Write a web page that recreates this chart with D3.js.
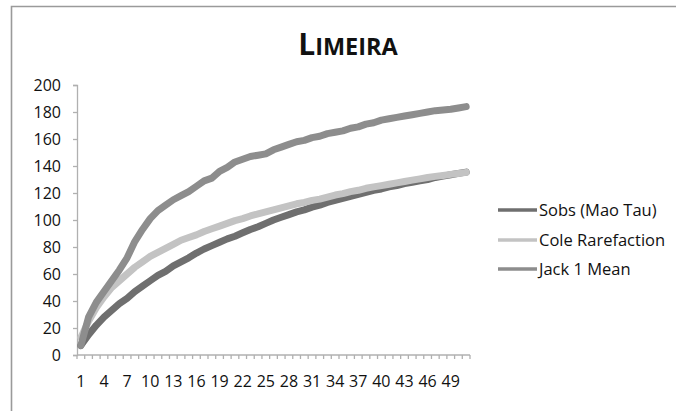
<!DOCTYPE html>
<html>
<head>
<meta charset="utf-8">
<script src="https://cdn.jsdelivr.net/npm/d3@7"></script>
<style>
  html, body { margin: 0; padding: 0; background: #fff; }
  svg { display: block; }
  text { font-family: "Open Sans", "DejaVu Sans", sans-serif; fill: #111; }
</style>
</head>
<body>
<svg id="chart" width="676" height="411"></svg>
<script>
// Sample counts 1..51
const samples = d3.range(1, 52);

const sobsMaoTau = [7, 15, 22, 28, 33, 38, 42, 47, 51, 55, 59, 62, 66, 69, 72, 75.5, 78.5, 81, 83.5, 86,
  88, 90.5, 93, 95, 97.5, 100, 102, 104, 106, 107.5, 109.5, 111, 113, 114.5, 116, 117.5, 119, 120.5, 122, 123,
  124.5, 125.5, 127, 128, 129, 130, 131.5, 132.5, 133.5, 134.5, 135.5];

const coleRarefaction = [13, 25, 35, 43, 50, 55, 60, 65, 69, 73, 76, 79, 82, 85, 87, 89, 91.5, 93.5, 95.5, 97.5,
  99.5, 101, 103, 104.5, 106, 107.5, 109, 110.5, 112, 113, 114.5, 115.5, 117, 118.5, 119.5, 121, 122, 123.5, 124.5, 125.5,
  126.5, 127.5, 128.5, 129.5, 130.5, 131.5, 132.3, 133, 133.8, 134.5, 135.3];

const jack1Mean = [7, 28, 39, 47, 55, 63, 72, 84, 93, 101, 107, 111, 115, 118, 121, 125, 129, 131, 136, 139,
  143, 145, 147, 148, 149, 152, 154, 156, 158, 159, 161, 162, 164, 165, 166, 168, 169, 171, 172, 174,
  175, 176, 177, 178, 179, 180, 181, 181.5, 182, 183, 184];

const seriesNames = ["Sobs (Mao Tau)", "Cole Rarefaction", "Jack 1 Mean"];
const seriesColors = ["#6f6f6f", "#c3c3c3", "#8d8d8d"];
const yTicks = [0, 20, 40, 60, 80, 100, 120, 140, 160, 180, 200];
const xTickLabels = samples.filter(d => (d - 1) % 3 === 0);

const series = [sobsMaoTau, coleRarefaction, jack1Mean];

const svg = d3.select("#chart");

// outer chart frame
svg.append("path")
  .attr("d", "M11.5,420 V6.5 H690")
  .attr("fill", "none")
  .attr("stroke", "#9a9a9a")
  .attr("stroke-width", 1.6);

// title in small caps
const title = svg.append("text")
  .attr("x", 348).attr("y", 55)
  .attr("text-anchor", "middle")
  .style("font-weight", "bold");
title.append("tspan").attr("font-size", 30).text("L");
title.append("tspan").attr("font-size", 23.5).text("IMEIRA");

const x = d3.scaleBand().domain(samples).range([77, 470]);
const y = d3.scaleLinear().domain([0, 200]).range([355, 85]);

// y axis
const yAxis = svg.append("g")
  .attr("transform", "translate(77,0)")
  .call(d3.axisLeft(y).tickValues(yTicks).tickSize(4).tickPadding(12));
yAxis.select(".domain").attr("stroke", "#b0b0b0").attr("stroke-width", 1.3);
yAxis.selectAll(".tick line").attr("stroke", "#b0b0b0").attr("stroke-width", 1.3);
yAxis.selectAll(".tick text").attr("font-size", 16).attr("fill", "#111")
  .style("font-family", "'Open Sans', sans-serif");

// x axis: tick marks on band boundaries, labels every third sample
const xAxisG = svg.append("g").attr("transform", "translate(0,355)");
xAxisG.append("line")
  .attr("x1", 77).attr("x2", 470)
  .attr("stroke", "#b0b0b0").attr("stroke-width", 1.3);
xAxisG.selectAll("line.tk")
  .data(samples.concat([52]))
  .join("line")
  .attr("class", "tk")
  .attr("x1", d => d <= 51 ? x(d) : x(51) + x.bandwidth())
  .attr("x2", d => d <= 51 ? x(d) : x(51) + x.bandwidth())
  .attr("y1", 0).attr("y2", 4)
  .attr("stroke", "#b0b0b0").attr("stroke-width", 1.3);
xAxisG.selectAll("text")
  .data(xTickLabels)
  .join("text")
  .attr("x", d => x(d) + x.bandwidth() / 2)
  .attr("y", 32)
  .attr("text-anchor", "middle")
  .attr("font-size", 16)
  .text(d => d);

// series lines
const line = d3.line()
  .x((d, i) => x(samples[i]) + x.bandwidth() / 2)
  .y(d => y(d))
  .curve(d3.curveLinear);

svg.selectAll("path.series")
  .data(series)
  .join("path")
  .attr("class", "series")
  .attr("d", d => line(d))
  .attr("fill", "none")
  .attr("stroke", (d, i) => seriesColors[i])
  .attr("stroke-width", 7)
  .attr("stroke-linejoin", "round")
  .attr("stroke-linecap", "round");

// legend
const legend = svg.append("g");
const legendY = [210, 240, 269];
seriesNames.forEach((name, i) => {
  legend.append("line")
    .attr("x1", 498).attr("x2", 537)
    .attr("y1", legendY[i]).attr("y2", legendY[i])
    .attr("stroke", seriesColors[i]).attr("stroke-width", 3.5);
  legend.append("text")
    .attr("x", 539).attr("y", legendY[i] + 6)
    .attr("font-size", 16.5)
    .text(name);
});
</script>
</body>
</html>
